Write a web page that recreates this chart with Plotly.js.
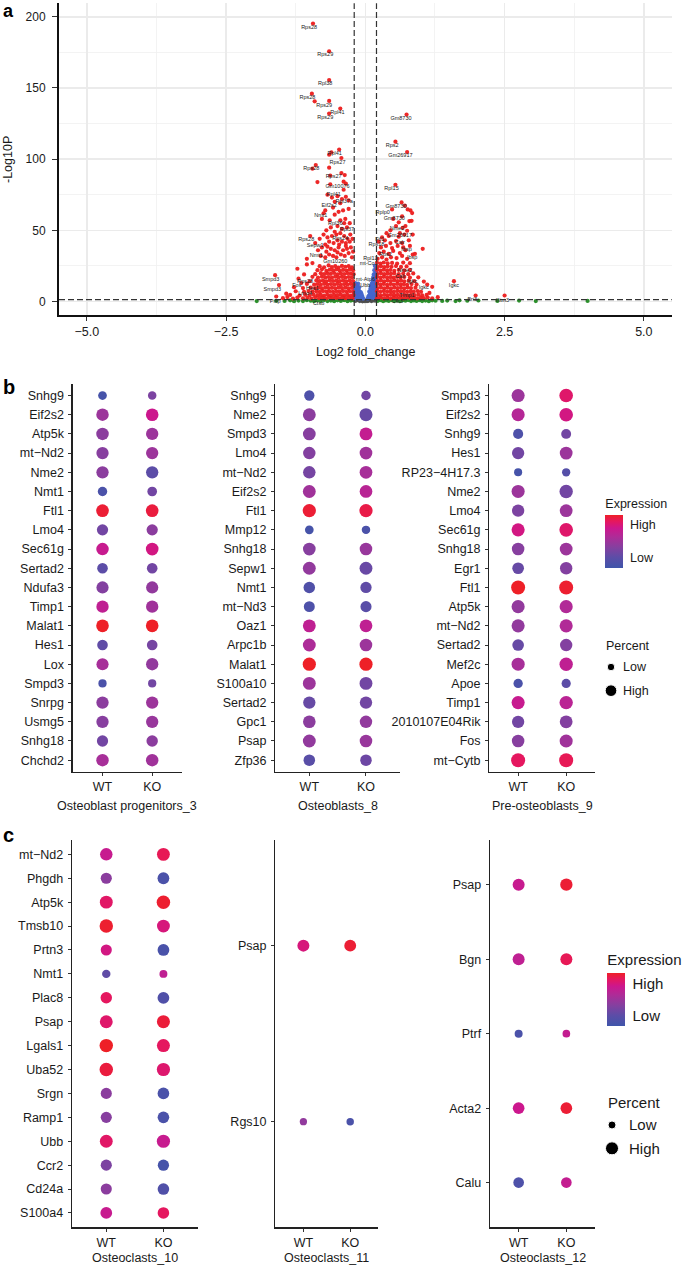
<!DOCTYPE html>
<html><head><meta charset="utf-8">
<script src="https://cdn.plot.ly/plotly-3.0.1.min.js"></script>
<style>html,body{margin:0;padding:0;background:#fff}#chart{width:682px;height:1267px}</style>
</head><body><div id="chart"></div>
<script>
// ---------------- Panel a: volcano data ----------------
const fcCut = 0.2;      // log2 fold-change cut-off
const pCut = 0.05;      // p-value cut-off
const redX = [
-0.94,-0.65,-0.65,-0.96,-0.91,-0.65,-0.45,-0.65,
-0.47,-0.61,-0.65,-0.43,-0.89,-0.95,-0.65,-0.43,-0.37,-0.63,-0.86,-0.39,-0.35,-0.63,-0.39,
-0.68,-0.6,-0.5,-0.42,-0.35,-0.55,-0.45,-0.3,
-0.72,-0.58,-0.4,-0.75,-0.55,-0.48,-0.3,-0.78,-0.64,
-0.45,-0.38,-0.5,-0.62,-0.33,-0.7,-0.42,-0.55,-0.28,-0.36,
-0.82,-0.75,-0.68,-0.6,-0.52,-0.45,-0.38,-0.32,-0.27,-0.65,-0.57,-0.5,-0.42,-0.35,-0.28,-0.23,-0.9,-0.72,-0.47,-0.99,
-0.85,-0.78,-0.7,-0.62,-0.55,-0.48,-0.4,-0.33,-0.26,-0.22,-0.8,-0.72,-0.65,-0.58,-0.52,-0.44,-0.37,-0.3,-0.24,-0.68,-0.35,-0.5,-1.05,-0.95,
-0.82,-0.74,-0.66,-0.6,-0.54,-0.48,-0.42,-0.36,-0.3,-0.24,
-0.86,-0.78,-0.7,-0.64,-0.58,-0.52,-0.46,-0.4,-0.34,-0.28,-0.22,
-0.9,-0.8,-0.74,-0.68,-0.62,-0.56,-0.5,-0.44,-0.38,-0.32,-0.26,-0.21,
-0.95,-0.85,-0.78,-0.72,-0.66,-0.6,-0.54,-0.48,-0.42,-0.36,-0.3,-0.24,
-1.0,-0.88,-0.82,-0.76,-0.7,-0.64,-0.58,-0.52,-0.46,-0.4,-0.34,-0.28,-0.22,
-1.05,-0.92,-0.86,-0.8,-0.74,-0.68,-0.62,-0.56,-0.5,-0.44,-0.38,-0.32,-0.26,-0.21,
-1.12,-0.98,-0.9,-0.84,-0.78,-0.72,-0.66,-0.6,-0.54,-0.48,-0.42,-0.36,-0.3,-0.24,
-1.25,-1.1,-1.02,-0.95,-0.88,-0.82,-0.76,-0.7,-0.64,-0.58,-0.52,-0.46,-0.4,-0.34,-0.28,-0.22,
-1.35,-1.18,-1.08,-1.0,-0.93,-0.86,-0.8,-0.74,-0.68,-0.62,-0.56,-0.5,-0.44,-0.38,-0.32,-0.26,-0.21,
-1.48,-1.4,-1.3,-1.22,-1.12,-1.04,-0.97,-0.9,-0.83,-0.77,-0.71,-0.65,-0.59,-0.53,-0.47,-0.41,-0.35,-0.29,-0.23,
-1.62,-1.55,-1.2,-1.1,-1.15,-1.28,-1.42,-1.6,-1.22,-1.05,
0.21,0.27,0.33,0.4,0.48,0.57,0.68,0.8,
0.22,0.28,0.34,0.4,0.47,0.55,0.64,0.74,
0.21,0.27,0.33,0.39,0.45,0.52,0.6,0.7,0.8,
0.22,0.28,0.34,0.4,0.46,0.52,0.6,0.68,0.77,0.86,
0.21,0.27,0.33,0.39,0.45,0.51,0.57,0.63,0.7,0.8,
0.22,0.28,0.34,0.4,0.46,0.52,0.58,0.64,0.7,0.78,0.88,
0.21,0.27,0.33,0.39,0.45,0.51,0.57,0.63,0.69,0.75,0.83,0.92,
0.22,0.28,0.34,0.4,0.46,0.52,0.58,0.64,0.7,0.76,0.82,0.9,
0.21,0.27,0.33,0.39,0.45,0.51,0.57,0.63,0.69,0.75,0.81,0.87,0.94,1.0,
0.22,0.28,0.34,0.4,0.46,0.52,0.58,0.64,0.7,0.76,0.82,0.88,0.95,1.02,1.1,
0.21,0.27,0.33,0.39,0.45,0.51,0.57,0.63,0.69,0.75,0.81,0.87,0.93,0.99,1.05,1.12,1.2,
0.22,0.3,0.38,0.46,0.56,0.66,0.75,0.25,0.33,0.42,0.5,0.62,0.72,0.85,0.89,0.28,0.37,0.48,0.58,0.68,0.8,0.24,0.35,0.45,0.55,0.66,0.78,0.3,0.42,0.6,0.7,
0.65,0.71,0.76,0.81,0.84,0.66,0.79,0.83,0.67,0.75,0.6,0.48,0.5,0.55,0.45,0.72,0.38,0.62,0.85,
0.74,0.54,0.75,0.54,
1.03,1.2,1.11,1.59,1.98,2.5,1.3,1.15,1.05,0.95
];
const redY = [
195.3,175.8,155.6,146,140.6,140.9,135.5,132,
106.7,104.8,103.1,100.8,95.9,93.3,94,90.2,88.8,88.5,83.9,84.2,82.8,82.3,78.5,
75,73,74,72,73.5,70,69,71,
64,66,64,62,61,63,65,58,57,
57,55,53,52,52,50,51,49,55,58,
44,47,45,46,47,48,46,44,47,42,41,43,42,41,42,44,41,40,40,46,
36,38,35,37,36,38,36,37,38,35,32,31,33,32,31,33,32,34,31,38.5,39,34.5,30,27,
24.8,24,25.3,24.2,24.9,23.8,25,24.4,24.9,23.9,
22,22.6,21.5,22.3,21.8,22.5,21.6,22.2,21.7,22.4,21.9,
19.2,19.9,19.3,19.8,19.4,20,19.1,19.7,19.3,19.9,19.5,19.2,
17.3,16.8,17.4,16.9,17.2,16.7,17.4,16.9,17.3,16.8,17.2,16.9,
14.2,14.8,14.3,14.7,14.2,14.9,14.4,14.6,14.3,14.8,14.2,14.7,14.4,
12.3,11.8,12.2,11.7,12.4,11.9,12.2,11.8,12.3,11.7,12.2,11.9,12.3,11.8,
9.4,9.8,9.3,9.7,9.2,9.8,9.4,9.6,9.3,9.8,9.4,9.7,9.2,9.6,
7.2,6.8,7.3,6.9,7.1,6.7,7.3,6.9,7.2,6.8,7.1,6.9,7.3,6.8,7.2,6.9,
4.6,4.2,4.7,4.3,4.8,4.4,4.6,4.2,4.7,4.3,4.6,4.4,4.8,4.3,4.6,4.2,4.5,
2.3,3.1,2.1,2.8,2.2,2.6,2.1,2.9,2.3,2.7,2.1,2.8,2.4,2.6,2.2,2.9,2.3,2.7,2.2,
18.5,11.5,16,19,13,10,5.5,3.5,23,26,
27.2,26.7,27.4,26.8,27.1,26.6,27.3,26.9,
24.3,24.8,24.2,24.7,24.4,24.9,24.3,24.6,
22.2,21.7,22.3,21.8,22.1,21.6,22.3,21.9,22.2,
19.3,19.8,19.2,19.7,19.4,19.9,19.3,19.6,19.2,19.7,
17.2,16.8,17.3,16.9,17.1,16.7,17.3,16.9,17.2,16.8,
14.3,14.8,14.2,14.7,14.4,14.9,14.3,14.6,14.2,14.7,14.4,
12.2,11.8,12.3,11.7,12.2,11.9,12.3,11.8,12.1,11.7,12.2,11.9,
9.4,9.8,9.3,9.7,9.2,9.8,9.4,9.6,9.3,9.8,9.4,9.7,
7.2,6.8,7.3,6.9,7.1,6.7,7.3,6.9,7.2,6.8,7.1,6.9,7.3,6.8,
4.6,4.2,4.7,4.3,4.8,4.4,4.6,4.2,4.7,4.3,4.6,4.4,4.8,4.3,4.6,
2.3,2.9,2.1,2.7,2.2,2.8,2.4,2.6,2.2,2.9,2.3,2.7,2.2,2.6,2.3,2.8,2.2,
30,31,29.5,31,30.5,32,30,34,35,33.5,35.5,34,36,33,33.5,38,39,37.5,39,38,39,42,43,41,42.5,41,43,45,46,45.5,47,
69.6,67.3,64.7,64,62.1,59.8,56.5,56.7,51.8,49.7,55.6,64.7,58,53,50,53,48,48,47,
131.3,112.3,105,82,
37,10.3,11.9,14.3,4.2,4.2,3,6,14,17
];
const blueX = [-0.19,-0.17,-0.15,-0.13,-0.11,-0.18,-0.16,-0.14,-0.12,-0.1,-0.08,-0.06,-0.19,-0.17,-0.15,-0.1,-0.13,-0.07,-0.05,-0.2,-0.18,-0.16,
  -0.2,-0.19,-0.18,-0.17,-0.16,-0.15,-0.14,-0.13,-0.12,-0.11,-0.09,-0.08,-0.2,-0.18,-0.16,-0.14,-0.12,-0.1,-0.06,-0.04,
  0.04,0.06,0.08,0.1,0.12,0.14,0.16,0.18,0.19,0.17,0.15,0.13,0.11,0.09,0.07,0.05,0.18,0.16,0.14,0.12,0.17,0.19,0.18,0.15,0.1,
  0.2,0.19,0.18,0.17,0.16,0.2,0.19,0.17,0.16,0.15,0.14,0.13,0.12,0.11,0.09,0.08,0.06,0.14,0.12,0.1,0.18,0.2,0.19,0.15,0.13];
const blueY = [2,4,6,8,10,9,12,3,5,7,4,2.5,6.5,8,10.5,2,12.5,5.5,3,11,13,7.5,
  3.5,8.5,11.5,2.5,10,4.5,7,9.5,2.2,6,3.5,6.5,6,4.8,3.2,11,8.2,4.6,4.2,2,
  2,4,6,8,10,13,16,20,23,25,19,15,12,9,7,3,10,6,4,3,14,17,5,9,5,
  8,12,15,19,22,20,4,8,11,14,17,7,5.5,3,4.5,2.5,2.2,10,13,10.5,2.5,14,9,2.5,11.5];
const greenX = [-1.95,-1.6,-1.45,-1.35,-1.28,-1.2,-1.12,-1.05,-0.98,-0.92,-0.86,-0.8,-0.74,-0.68,-0.62,-0.56,-0.5,-0.44,-0.38,-0.32,-0.26,-0.22,
  0.22,0.27,0.32,0.37,0.42,0.47,0.52,0.57,0.62,0.67,0.72,0.77,0.82,0.87,0.92,0.97,1.02,1.08,1.14,1.2,1.26,1.38,1.47,1.62,1.69,1.83,2.03,2.37,2.76,3.06,3.99];
const greenY = [0.3,0.5,0.4,0.8,0.2,0.6,0.3,0.9,0.5,0.2,0.7,0.4,1.0,0.3,0.6,0.2,0.8,0.4,0.9,0.2,0.6,1.0,
  0.4,0.9,0.2,0.7,0.4,1.0,0.3,0.7,0.2,0.8,0.5,1.0,0.3,0.7,0.4,0.9,0.3,0.6,0.2,0.8,0.5,0.4,0.6,0.3,0.8,0.5,0.7,0.4,0.6,0.3,0.4];
const nsX = [-0.18,-0.14,-0.1,-0.07,-0.04,-0.01,0.02,0.05,0.08,0.11,0.15,0.18,-0.12,-0.05,0.03,0.1];
const nsY = [0.4,0.9,0.3,1.0,0.5,0.2,0.8,0.4,1.1,0.3,0.7,0.5,1.2,0.1,0.3,0.9];
const labelText = ['Rps28','Rps29','Rpl38','Rps28','Rps29','Rpl41','Rps29','Gm8730','Rps2','Gm26917','Rpl41','Rps27','Rps28','Rps27','Gm10076','Rpl15','Rpl41','Rpl37a','Eif2s2','Gm8730','Rplp0','Nmt1','Gm8730','Rpl36','Rpl37','Nme2','Gm26917','Rps28','Rps24','Ftl1','Calr','Rps18','Sepw1','Ibsp','Nmt1','Rpl13','Rps2','Ibsp','mt-Co1','Gm10260','Nme2','Smpd3','Rps28','mt-Atp6','Calr','Igkc','Fos','Ubb','Smpd3','Hes1','Igkc','Igkc','Lmo4','Timp1','Pisp','Ctsb','Cst3','Bri3','Ifitm3'];
const labelX = [-1.01,-0.72,-0.72,-1.04,-0.74,-0.5,-0.72,0.64,0.48,0.63,-0.55,-0.5,-0.97,-0.57,-0.5,0.47,-0.57,-0.38,-0.65,0.55,0.31,-0.8,0.52,-0.54,-0.33,0.57,0.62,-1.06,-0.45,0.26,0.62,0.2,-0.9,0.74,-0.88,0.09,0.36,0.84,0.06,-0.54,0.71,-1.7,-1.08,0.0,0.63,0.84,-1.23,0.0,-1.67,-0.95,1.05,1.59,-1.08,0.75,-1.62,-0.84,0.57,1.92,2.46];
const labelY = [192.2,173.2,152.8,143.5,137.8,132.4,128.9,128.5,109.7,102.2,103.9,97.7,93,87.9,80.7,79,75,70.5,67.3,66.6,62.4,60.5,57.9,54.6,50.4,51.1,46.6,43.4,44.3,43.6,41.5,39.9,38.9,36.6,32.3,30.2,32.6,30.7,26.5,28.3,21.8,15.5,14.3,15.5,17.8,13.6,11.3,11.3,8.4,8.9,9.4,11.3,5.6,4.2,0.2,-1.4,0.2,1.4,0.9];

// ---------------- Panels b / c: dot-plot data ----------------
const groups = ['WT','KO'];
const genesB1 = ['Snhg9','Eif2s2','Atp5k','mt−Nd2','Nme2','Nmt1','Ftl1','Lmo4','Sec61g','Sertad2','Ndufa3','Timp1','Malat1','Hes1','Lox','Smpd3','Snrpg','Usmg5','Snhg18','Chchd2'];
const exprWT_B1 = [0.05,0.5,0.42,0.4,0.42,0.08,0.97,0.3,0.72,0.2,0.38,0.68,1.0,0.22,0.55,0.08,0.42,0.4,0.3,0.55];
const exprKO_B1 = [0.35,0.75,0.5,0.5,0.2,0.3,0.95,0.42,0.78,0.3,0.45,0.52,1.0,0.32,0.45,0.3,0.5,0.48,0.42,0.52];
const pctWT_B1 = [34,81,81,79,79,43,83,66,81,58,77,79,83,58,77,28,79,79,66,81];
const pctKO_B1 = [31,83,79,79,79,46,83,66,83,58,77,79,83,58,79,28,79,79,68,81];

const genesB2 = ['Snhg9','Nme2','Smpd3','Lmo4','mt−Nd2','Eif2s2','Ftl1','Mmp12','Snhg18','Sepw1','Nmt1','mt−Nd3','Oaz1','Arpc1b','Malat1','S100a10','Sertad2','Gpc1','Psap','Zfp36'];
const exprWT_B2 = [0.1,0.42,0.4,0.38,0.32,0.52,0.97,0.05,0.4,0.45,0.12,0.1,0.68,0.58,1.0,0.5,0.25,0.42,0.45,0.18];
const exprKO_B2 = [0.3,0.25,0.7,0.52,0.55,0.64,0.93,0.08,0.48,0.26,0.22,0.18,0.68,0.5,1.0,0.3,0.3,0.45,0.48,0.28];
const pctWT_B2 = [54,86,84,81,81,86,90,34,83,86,69,62,86,86,90,86,79,83,86,69];
const pctKO_B2 = [43,88,86,84,84,84,90,31,82,86,66,64,84,82,90,86,80,80,82,69];

const genesB3 = ['Smpd3','Eif2s2','Snhg9','Hes1','RP23−4H17.3','Nme2','Lmo4','Sec61g','Snhg18','Egr1','Ftl1','Atp5k','mt−Nd2','Sertad2','Mef2c','Apoe','Timp1','2010107E04Rik','Fos','mt−Cytb'];
const exprWT_B3 = [0.5,0.62,0.1,0.3,0.05,0.5,0.35,0.78,0.4,0.25,1.0,0.45,0.45,0.25,0.55,0.08,0.72,0.3,0.4,0.88];
const exprKO_B3 = [0.85,0.78,0.3,0.5,0.15,0.3,0.5,0.85,0.5,0.38,0.98,0.6,0.6,0.38,0.68,0.2,0.65,0.38,0.52,0.9];
const pctWT_B3 = [89,89,52,79,26,89,79,89,82,71,100,89,89,71,89,41,89,79,82,100];
const pctKO_B3 = [95,95,49,85,29,92,85,95,85,80,100,89,89,80,92,40,92,85,88,100];

const genesC1 = ['mt−Nd2','Phgdh','Atp5k','Tmsb10','Prtn3','Nmt1','Plac8','Psap','Lgals1','Uba52','Srgn','Ramp1','Ubb','Ccr2','Cd24a','S100a4'];
const exprWT_C1 = [0.72,0.42,0.86,0.98,0.78,0.22,0.88,0.85,1.0,0.95,0.42,0.4,0.86,0.35,0.42,0.72];
const exprKO_C1 = [0.9,0.08,0.98,0.8,0.07,0.68,0.12,0.96,0.88,0.84,0.08,0.08,0.72,0.05,0.12,0.88];
const pctWT_C1 = [81,64,86,93,64,30,68,86,93,93,64,64,86,64,64,72];
const pctKO_C1 = [86,72,93,86,72,24,72,88,88,90,70,70,90,66,70,70];

const genesC2 = ['Psap','Rgs10'];
const exprWT_C2 = [0.8,0.45];
const exprKO_C2 = [0.97,0.08];
const pctWT_C2 = [75,16];
const pctKO_C2 = [73,18];

const genesC3 = ['Psap','Bgn','Ptrf','Acta2','Calu'];
const exprWT_C3 = [0.72,0.68,0.08,0.75,0.1];
const exprKO_C3 = [0.97,0.9,0.7,0.97,0.7];
const pctWT_C3 = [75,75,25,71,58];
const pctKO_C3 = [79,75,21,71,58];

const percentKeys = ['Low','High'];
const keyPctB = [19,71];
const keyPctC = [25,88];

// ---------------- helpers ----------------
const W = 682, H = 1267;
const FONT = 'Liberation Sans, Arial, Helvetica, sans-serif';
const TXT = '#1a1a1a';
const dx = (l, r) => [l / W, r / W];
const dy = (t, b) => [1 - b / H, 1 - t / H];
const sizeOf = p => 6 + 0.08 * p;
const exprScale = [[0,'#3F55AA'],[0.2,'#5C4DA7'],[0.4,'#873F9F'],[0.6,'#B12A97'],[0.75,'#CC178D'],[0.88,'#E5175F'],[1,'#EE2027']];

function dotTrace(genes, eWT, eKO, pWT, pKO, n, cax) {
  const x = [], y = [], c = [], s = [];
  genes.forEach((g, i) => {
    x.push(groups[0]); y.push(g); c.push(eWT[i]); s.push(sizeOf(pWT[i]));
    x.push(groups[1]); y.push(g); c.push(eKO[i]); s.push(sizeOf(pKO[i]));
  });
  return {type:'scatter', mode:'markers', x, y, xaxis:'x'+n, yaxis:'y'+n,
    marker:{color:c, coloraxis:cax, size:s, opacity:1, line:{width:0}}, hoverinfo:'skip', showlegend:false};
}
function dotAxes(layout, n, genes, l, r, t, b, fs) {
  layout['xaxis'+n] = {domain:dx(l,r), anchor:'y'+n, type:'category', categoryorder:'array', categoryarray:groups,
    range:[-0.6,1.6], showline:true, linecolor:'#222', linewidth:1.3, ticks:'outside', ticklen:3, tickcolor:'#333', tickwidth:1,
    tickfont:{size:fs, color:TXT}, showgrid:false, zeroline:false, fixedrange:true};
  layout['yaxis'+n] = {domain:dy(t,b), anchor:'x'+n, type:'category', categoryorder:'array', categoryarray:genes.slice().reverse(),
    range:[-0.6, genes.length-0.4], showline:true, linecolor:'#222', linewidth:1.3, ticks:'outside', ticklen:3, tickcolor:'#333', tickwidth:1,
    tickfont:{size:fs, color:TXT}, ticklabelstandoff:2, showgrid:false, zeroline:false, fixedrange:true};
}
function keyTrace(pcts, n) {
  return {type:'scatter', mode:'markers', x:[0,0], y:percentKeys, xaxis:'x'+n, yaxis:'y'+n,
    marker:{color:'#000', size:pcts.map(sizeOf), opacity:1}, hoverinfo:'skip', showlegend:false};
}
function keyAxes(layout, n, l, r, t, b, fs, gap) {
  layout['xaxis'+n] = {domain:dx(l,r), anchor:'y'+n, range:[-1,1], visible:false, fixedrange:true};
  layout['yaxis'+n] = {domain:dy(t,b), anchor:'x'+n, side:'right', type:'category', categoryorder:'array', categoryarray:['High','Low'],
    range:[-0.5,1.5], showline:false, ticks:'', showgrid:false, zeroline:false, tickfont:{size:fs, color:TXT}, ticklabelstandoff:gap, fixedrange:true};
}
// bar: left edge x (px), bar top/bottom (px), title height (px)
function cbar(xl, barTop, barBot, titleH, fs) {
  const top = barTop - titleH;
  return {x:xl/W, xanchor:'left', xpad:0, ypad:0, y:1-(top+barBot)/2/H, yanchor:'middle', len:barBot-top, lenmode:'pixels',
    thickness:18, thicknessmode:'pixels', outlinewidth:0, tickvals:[0.185,0.8], ticktext:['Low','High'],
    ticks:'outside', ticklen:5, tickcolor:'rgba(255,255,255,0)', tickwidth:1,
    tickfont:{size:fs, color:TXT}, title:{text:'Expression', side:'top', font:{size:fs, color:TXT}}};
}

// ---------------- traces ----------------
const mk = (x, y, color, name) => ({type:'scatter', mode:'markers', x, y, xaxis:'x', yaxis:'y', name,
  marker:{color, size:4.2, opacity:0.95, line:{width:0}}, hoverinfo:'skip', showlegend:false});
const traces = [
  mk(nsX, nsY, '#4D4D4D', 'NS'),
  mk(greenX, greenY, '#228B22', 'Log2 FC'),
  mk(blueX, blueY, '#4466CC', 'p-value'),
  mk(redX, redY, '#EC1C1C', 'p-value and log2 FC'),
  {type:'scatter', mode:'text', x:labelX, y:labelY, text:labelText, xaxis:'x', yaxis:'y',
   textfont:{size:5.5, color:'#222', family:FONT}, hoverinfo:'skip', showlegend:false},
  dotTrace(genesB1, exprWT_B1, exprKO_B1, pctWT_B1, pctKO_B1, 2, 'coloraxis'),
  dotTrace(genesB2, exprWT_B2, exprKO_B2, pctWT_B2, pctKO_B2, 3, 'coloraxis'),
  dotTrace(genesB3, exprWT_B3, exprKO_B3, pctWT_B3, pctKO_B3, 4, 'coloraxis'),
  dotTrace(genesC1, exprWT_C1, exprKO_C1, pctWT_C1, pctKO_C1, 5, 'coloraxis2'),
  dotTrace(genesC2, exprWT_C2, exprKO_C2, pctWT_C2, pctKO_C2, 6, 'coloraxis2'),
  dotTrace(genesC3, exprWT_C3, exprKO_C3, pctWT_C3, pctKO_C3, 7, 'coloraxis2'),
  keyTrace(keyPctB, 8),
  keyTrace(keyPctC, 9)
];

// ---------------- layout ----------------
const layout = {
  width:W, height:H, margin:{l:0,r:0,t:0,b:0}, paper_bgcolor:'#fff', plot_bgcolor:'#fff',
  font:{family:FONT, color:TXT, size:12.5}, showlegend:false,
  xaxis:{domain:dx(59,671.7), anchor:'y', range:[-5.5,5.5], tickvals:[-5,-2.5,0,2.5,5], tickformat:'.1f',
    showline:true, linecolor:'#111', linewidth:2, ticks:'outside', ticklen:4, tickcolor:'#333',
    showgrid:true, gridcolor:'#EBEBEB', gridwidth:1.5, zeroline:false,
    minor:{dtick:1.25, tick0:0, showgrid:true, gridcolor:'#F0F0F0', gridwidth:0.8, ticks:''},
    tickfont:{size:12.5, color:TXT}, fixedrange:true},
  yaxis:{domain:dy(3.3,315), anchor:'x', range:[-9.5,209.5], tick0:0, dtick:50,
    showline:true, linecolor:'#111', linewidth:2, ticks:'outside', ticklen:5, tickcolor:'#333',
    showgrid:true, gridcolor:'#EBEBEB', gridwidth:1.5, zeroline:false,
    minor:{dtick:25, tick0:0, showgrid:true, gridcolor:'#F0F0F0', gridwidth:0.8, ticks:''},
    tickfont:{size:12, color:TXT}, ticklabelstandoff:4, fixedrange:true},
  coloraxis:{cmin:0, cmax:1, colorscale:exprScale, colorbar:cbar(605.3, 512.7, 567.3, 17, 12.5)},
  coloraxis2:{cmin:0, cmax:1, colorscale:exprScale, colorbar:cbar(607.3, 971.7, 1025.7, 21, 15)},
  shapes:[
    {type:'line', xref:'x', yref:'y domain', x0:-fcCut, x1:-fcCut, y0:0, y1:1, line:{color:'#333', width:1.2, dash:'6px,3px'}},
    {type:'line', xref:'x', yref:'y domain', x0:fcCut, x1:fcCut, y0:0, y1:1, line:{color:'#333', width:1.2, dash:'6px,3px'}},
    {type:'line', xref:'x domain', yref:'y', x0:0, x1:1, y0:-Math.log10(pCut), y1:-Math.log10(pCut), line:{color:'#333', width:1.2, dash:'6px,3px'}}
  ],
  annotations:[]
};
dotAxes(layout, 2, genesB1, 72.7, 182, 384, 771.7, 12.5);
dotAxes(layout, 3, genesB2, 275.3, 400, 384, 771.7, 12.5);
dotAxes(layout, 4, genesB3, 489.3, 595, 384, 771.7, 12.5);
dotAxes(layout, 5, genesC1, 72, 197.7, 840, 1227.3, 12.5);
dotAxes(layout, 6, genesC2, 275.3, 378.3, 840, 1227.3, 12.5);
dotAxes(layout, 7, genesC3, 490, 595, 840, 1227.3, 12.5);
keyAxes(layout, 8, 604, 618, 655.2, 702.5, 12.5, 4);
keyAxes(layout, 9, 604, 620, 1113.3, 1160, 15, 8);

function ann(text, x, y, opts) {
  layout.annotations.push(Object.assign({text, x:x/W, y:1-y/H, xref:'paper', yref:'paper', showarrow:false,
    xanchor:'center', yanchor:'middle', font:{size:12.5, color:TXT}}, opts || {}));
}
// axis titles
ann('Log2 fold_change', 365.3, 352);
ann('-Log10P', 8, 160, {textangle:-90});
ann('Osteoblast progenitors_3', 127.35, 805.7);
ann('Osteoblasts_8', 337.65, 805.7);
ann('Pre-osteoblasts_9', 542.15, 805.7);
ann('Osteoclasts_10', 134.85, 1258.3);
ann('Osteoclasts_11', 326.8, 1258.3);
ann('Osteoclasts_12', 542.5, 1258.3);
// legend titles
ann('Percent', 604, 645.7, {xanchor:'left', font:{size:12.5, color:TXT}});
ann('Percent', 606, 1102.7, {xanchor:'left', font:{size:15, color:TXT}});
// panel letters
ann('<b>a</b>', 1, 11, {xanchor:'left', font:{size:18, color:'#000'}});
ann('<b>b</b>', 1, 387, {xanchor:'left', font:{size:20, color:'#000'}});
ann('<b>c</b>', 1, 835, {xanchor:'left', font:{size:20, color:'#000'}});

Plotly.newPlot('chart', traces, layout, {staticPlot:true, displayModeBar:false});
</script></body></html>
